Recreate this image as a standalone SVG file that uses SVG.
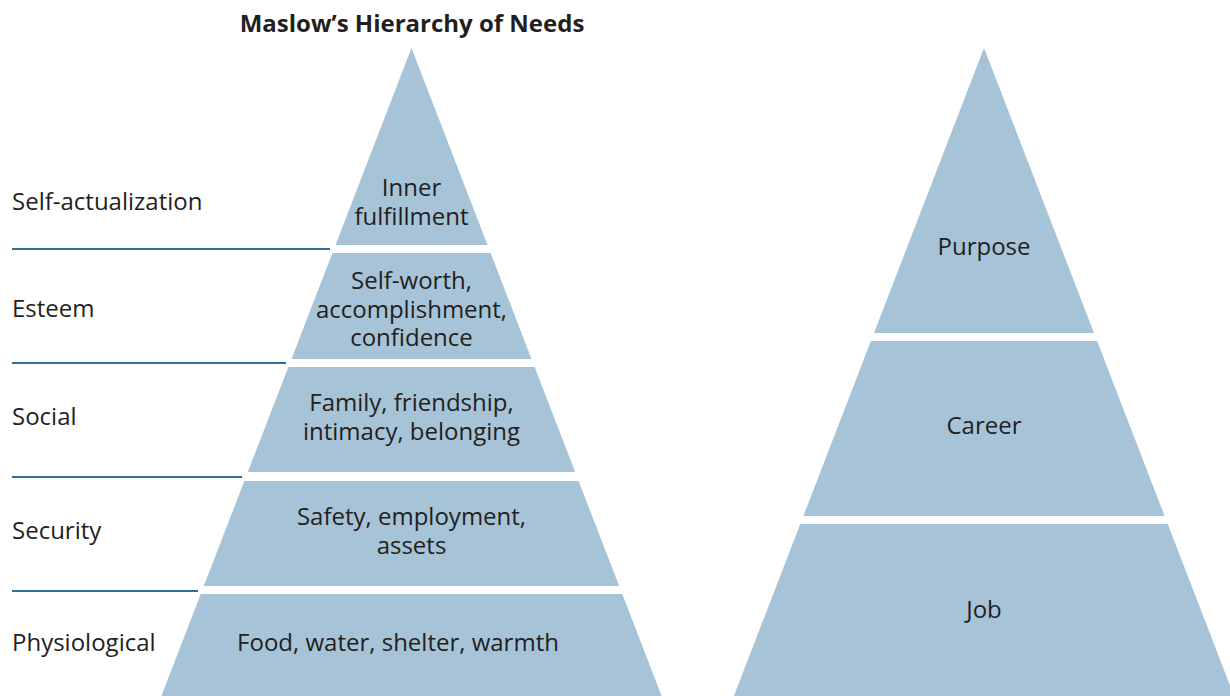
<svg xmlns="http://www.w3.org/2000/svg" width="1230" height="696" viewBox="0 0 1230 696">
<style>
.band{fill:#a6c3d7}
.t{font-family:"Open Sans","Noto Sans","Liberation Sans",sans-serif;font-size:24px;fill:#231f20}
.c{text-anchor:middle}
.title{font-family:"Open Sans","Noto Sans","Liberation Sans",sans-serif;font-size:24px;font-weight:bold;fill:#231f20;text-anchor:middle}
.sep{stroke:#2f6f99;stroke-width:2.2;fill:none}
</style>
<rect width="1230" height="696" fill="#ffffff"/>
<text class="title" x="412" y="32">Maslow’s Hierarchy of Needs</text>
<g id="connectors">
<line class="sep" x1="12" y1="249" x2="330" y2="249"/>
<line class="sep" x1="12" y1="363" x2="286" y2="363"/>
<line class="sep" x1="12" y1="477" x2="242" y2="477"/>
<line class="sep" x1="12" y1="591" x2="198" y2="591"/>
</g>
<g id="level-self-actualization">
<polygon class="band" points="411.5,48 487.5,245 335.5,245"/>
<text class="t c" x="411.5" y="196">Inner</text>
<text class="t c" x="411.5" y="225">fulfillment</text>
<text class="t" x="12" y="210">Self-actualization</text>
</g>
<g id="level-esteem">
<polygon class="band" points="332.4,253 490.6,253 531.5,359 291.5,359"/>
<text class="t c" x="411.5" y="289">Self-worth,</text>
<text class="t c" x="411.5" y="318">accomplishment,</text>
<text class="t c" x="411.5" y="346">confidence</text>
<text class="t" x="12" y="317">Esteem</text>
</g>
<g id="level-social">
<polygon class="band" points="288.4,367 534.6,367 575.2,472 247.8,472"/>
<text class="t c" x="411.5" y="411">Family, friendship,</text>
<text class="t c" x="411.5" y="440">intimacy, belonging</text>
<text class="t" x="12" y="425">Social</text>
</g>
<g id="level-security">
<polygon class="band" points="244.4,481 578.6,481 619.2,586 203.8,586"/>
<text class="t c" x="411.5" y="525">Safety, employment,</text>
<text class="t c" x="411.5" y="554">assets</text>
<text class="t" x="12" y="539">Security</text>
</g>
<g id="level-physiological">
<polygon class="band" points="200.7,594 622.3,594 661.6,696 161.4,696"/>
<text class="t c" x="398" y="651">Food, water, shelter, warmth</text>
<text class="t" x="12" y="651">Physiological</text>
</g>
<g id="purpose">
<polygon class="band" points="984,48 1094,333 874,333"/>
<text class="t c" x="984" y="255">Purpose</text>
</g>
<g id="career">
<polygon class="band" points="870.9,341 1097.1,341 1164.6,516 803.4,516"/>
<text class="t c" x="984" y="434">Career</text>
</g>
<g id="job">
<polygon class="band" points="800.3,524 1167.7,524 1234.1,696 733.9,696"/>
<text class="t c" x="984" y="618">Job</text>
</g>
</svg>
